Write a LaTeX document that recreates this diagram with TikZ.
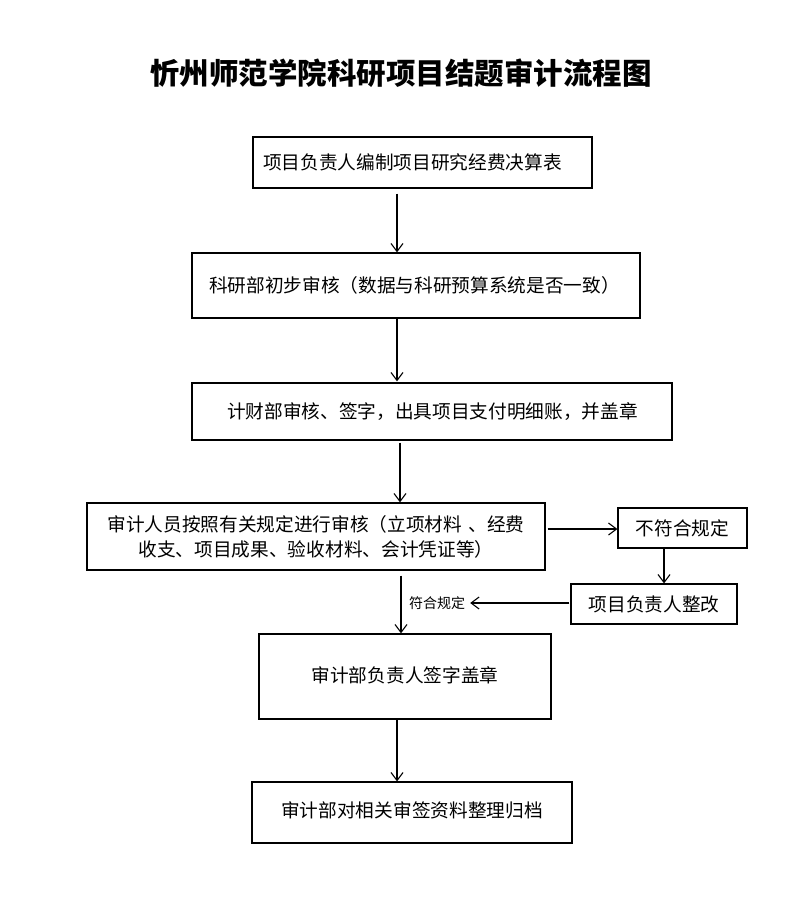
\documentclass[tikz,border=0pt]{standalone}
\usepackage{fontspec}
\setmainfont{Noto Sans CJK SC}
\usetikzlibrary{arrows.meta,calc}
\begin{document}
\begin{tikzpicture}[x=1pt,y=-1pt,
  box/.style={draw=black,line width=1.2pt,rectangle,inner ysep=0pt,
    font=\fontsize{18.67}{25}\selectfont},
  arr/.style={draw=black,line width=1.1pt,-{Straight Barb[length=8pt,width=12pt,line width=1.1pt]}},
  lbl/.style={font=\fontsize{14}{16}\selectfont,inner sep=0pt}]
\fill[white] (0,0) rectangle (800,902);
\useasboundingbox (0,0) rectangle (800,902);

\node[font=\bfseries\fontsize{29.5}{32}\selectfont,inner sep=0pt] (title) at (401,73) {忻州师范学院科研项目结题审计流程图};

\node[box,minimum width=339pt,minimum height=51pt,text width=319pt,inner xsep=10pt,align=left] (b1) at (422.5,162.5) {项目负责人编制项目研究经费决算表};
\node[box,minimum width=448pt,minimum height=65pt,text width=414pt,inner xsep=17pt,align=left] (b2) at (416,285.5) {科研部初步审核（数据与科研预算系统是否一致）};
\node[box,minimum width=480pt,minimum height=57pt,text width=410pt,inner xsep=35pt,align=left] (b3) at (432,411.5) {计财部审核、签字，出具项目支付明细账，并盖章};
\node[box,minimum width=458pt,minimum height=67pt,text width=438pt,inner xsep=10pt,align=center] (b4) at (316,536.5) {审计人员按照有关规定进行审核（立项材料 、经费\\收支、项目成果、验收材料、会计凭证等）};
\node[box,minimum width=129pt,minimum height=40pt,text width=109pt,inner xsep=10pt,align=center] (b5) at (682.5,528) {\raisebox{-5pt}{不符合规定}};
\node[box,minimum width=166pt,minimum height=40pt,text width=146pt,inner xsep=10pt,align=center] (b6) at (654,604) {\raisebox{-5pt}{项目负责人整改}};
\node[box,minimum width=292pt,minimum height=85pt,text width=272pt,inner xsep=10pt,align=center] (b7) at (405,676.5) {\raisebox{4pt}{审计部负责人签字盖章}};
\node[box,minimum width=320pt,minimum height=61pt,text width=300pt,inner xsep=10pt,align=center] (b8) at (412,812.5) {\raisebox{6pt}{审计部对相关审签资料整理归档}};

\node[lbl] (ok) at (437,603) {符合规定};

\coordinate (x1) at (397,0);
\coordinate (x2) at (400,0);
\coordinate (x3) at (401,0);
\coordinate (x4) at (664,0);
\coordinate (y1) at (0,529);
\coordinate (y2) at (0,603);

\draw[arr,shorten <=5pt] (b1.south -| x1) -- (b2.north -| x1);
\draw[arr,shorten >=1pt] (b2.south -| x1) -- (b3.north -| x1);
\draw[arr,shorten <=2pt] (b3.south -| x2) -- (b4.north -| x2);
\draw[arr,shorten <=2pt] (b4.east |- y1) -- (b5.west |- y1);
\draw[arr] (b5.south -| x4) -- (b6.north -| x4);
\draw[arr,shorten <=1pt,shorten >=5pt] (b6.west |- y2) -- (ok.east |- y2);
\draw[arr,shorten <=5pt] (b4.south -| x3) -- (b7.north -| x3);
\draw[arr] (b7.south -| x1) -- (b8.north -| x1);
\end{tikzpicture}
\end{document}
